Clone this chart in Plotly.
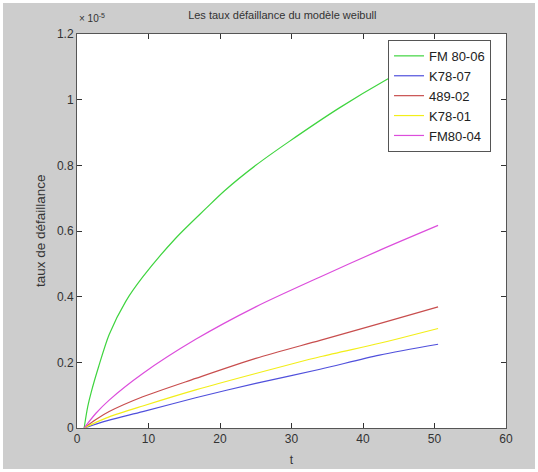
import plotly.graph_objects as go

# Values (units of 1e-5)
t_fm8006 = [1, 1.5, 2, 3, 4.5, 6.8, 9.2, 13.8, 18, 20.6, 25, 29.7, 36.7, 43.2, 51]
y_fm8006 = [0, 0.065, 0.11, 0.185, 0.285, 0.385, 0.46, 0.578, 0.668, 0.722, 0.80, 0.873, 0.975, 1.06, 1.15]

t_common = [1, 2.65, 4.5, 9.2, 16.6, 25, 34, 42.3, 50.5]
y_fm8004 = [0, 0.045, 0.085, 0.166, 0.27, 0.369, 0.46, 0.541, 0.617]
y_48902 = [0, 0.026, 0.05, 0.095, 0.151, 0.212, 0.267, 0.318, 0.369]
y_k7801 = [0, 0.017, 0.034, 0.067, 0.116, 0.166, 0.217, 0.258, 0.303]
y_k7807 = [0, 0.012, 0.024, 0.05, 0.092, 0.136, 0.179, 0.222, 0.255]

names = ["FM 80-06", "K78-07", "489-02", "K78-01", "FM80-04"]
colors = ["#3fd43f", "#5050dc", "#c84e4e", "#f2ee1a", "#dc4edc"]

y_ticks = [0, 0.2, 0.4, 0.6, 0.8, 1, 1.2]
y_tick_text = ["0", "0.2", "0.4", "0.6", "0.8", "1", "1.2"]
x_ticks = [0, 10, 20, 30, 40, 50, 60]

series = [
    (t_fm8006, y_fm8006),
    (t_common, y_k7807),
    (t_common, y_48902),
    (t_common, y_k7801),
    (t_common, y_fm8004),
]

fig = go.Figure()
for (tx, ty), name, col in zip(series, names, colors):
    fig.add_trace(go.Scatter(x=tx, y=ty, mode="lines", name=name,
                             line=dict(color=col, width=1.2, shape="spline", smoothing=0.8)))

axis_common = dict(showgrid=False, zeroline=False, showline=True, linecolor="#555555",
                   linewidth=1, mirror="ticks", ticks="inside", ticklen=5,
                   tickcolor="#333333", tickfont=dict(size=12, color="#333333"),
                   automargin=False)

fig.update_layout(
    width=532, height=466,
    paper_bgcolor="#cdcdcd", plot_bgcolor="white",
    margin=dict(l=74, r=29, t=31, b=41),
    font=dict(family="Liberation Sans, Arial, sans-serif", color="#333333"),
    title=dict(text="Les taux défaillance du modèle weibull", x=0.525, xanchor="center",
               y=0.974, yanchor="middle", font=dict(size=11, color="#333333")),
    xaxis=dict(range=[0, 60], tickvals=x_ticks,
               title=dict(text="t", font=dict(size=12), standoff=10), **axis_common),
    yaxis=dict(range=[0, 1.2], tickvals=y_ticks, ticktext=y_tick_text, **axis_common),
    legend=dict(x=0.725, y=0.985, xanchor="left", yanchor="top",
                bgcolor="white", bordercolor="#555555", borderwidth=1,
                font=dict(size=13, color="#222222"), tracegroupgap=0),
    showlegend=True,
)

fig.add_annotation(text="taux de défaillance", xref="paper", yref="paper", x=0, y=0.5,
                   xanchor="center", yanchor="middle", xshift=-37, textangle=-90,
                   showarrow=False, font=dict(size=13.5, color="#333333"))

fig.add_annotation(text="× 10<sup>-5</sup>", xref="paper", yref="paper", x=0.0, y=1.0,
                   xanchor="left", yanchor="bottom", showarrow=False,
                   font=dict(size=10, color="#333333"), yshift=8)

fig.write_html("out.html", post_script="document.body.style.margin='3px';")
